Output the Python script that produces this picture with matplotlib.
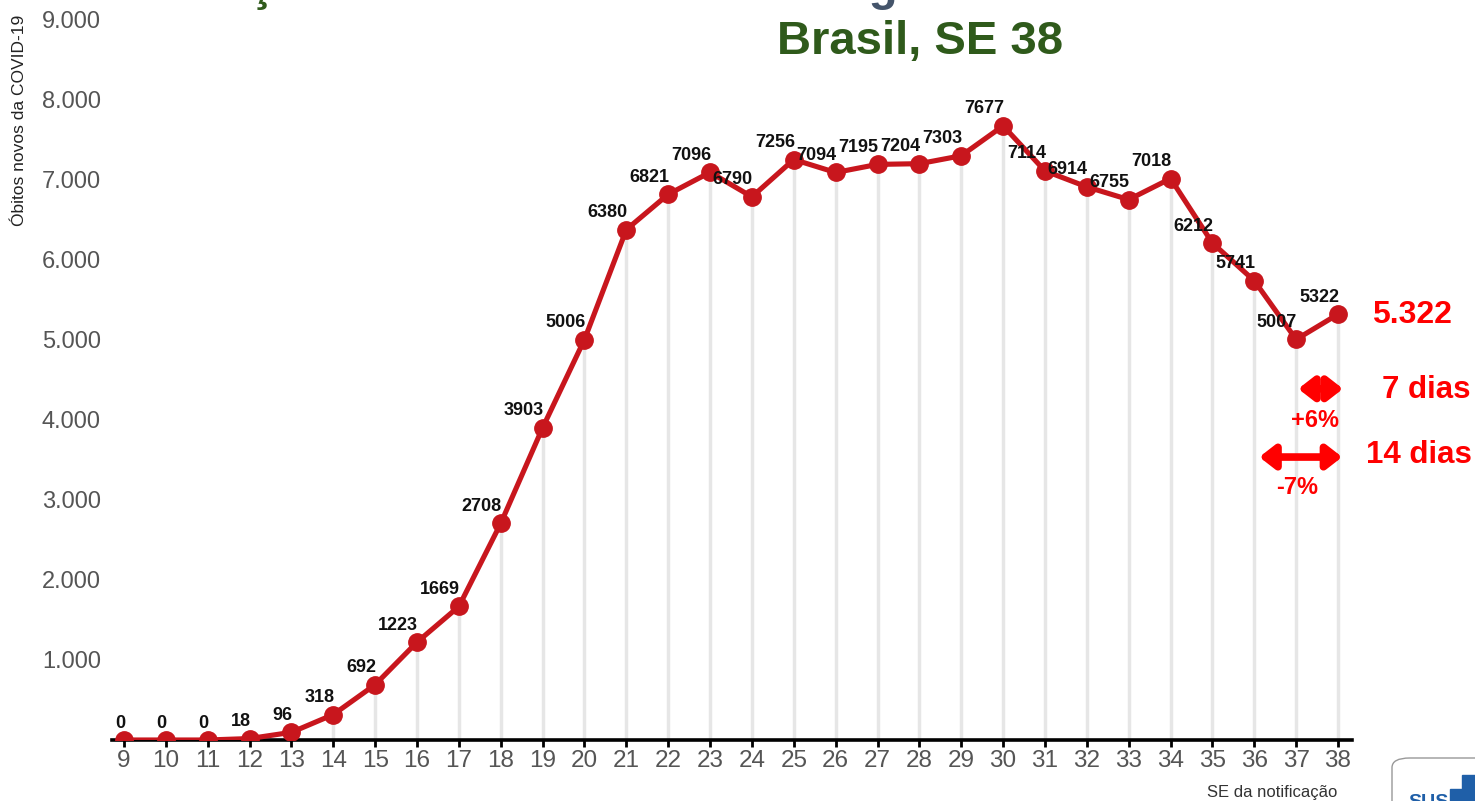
import matplotlib
matplotlib.use("Agg")
import matplotlib.pyplot as plt
from matplotlib.patches import FancyBboxPatch, Rectangle

plt.rcParams['font.family'] = ['Liberation Sans', 'DejaVu Sans']

# semana epidemiologica e obitos novos
weeks = list(range(9, 39))
deaths = [0, 0, 0, 18, 96, 318, 692, 1223, 1669, 2708,
          3903, 5006, 6380, 6821, 7096, 6790, 7256, 7094, 7195, 7204,
          7303, 7677, 7114, 6914, 6755, 7018, 6212, 5741, 5007, 5322]
yticks = [1000, 2000, 3000, 4000, 5000, 6000, 7000, 8000, 9000]
ytick_labels = ["1.000", "2.000", "3.000", "4.000", "5.000", "6.000", "7.000", "8.000", "9.000"]

last_value = "5.322"
var_7 = "+6%"
var_14 = "-7%"

RED_LINE = '#c8161d'
GREEN = '#2f5a1b'
SLATE = '#44546a'
RED = '#ff0000'

W, H = 1475, 801
fig = plt.figure(figsize=(W / 100, H / 100), dpi=100)
ax = fig.add_axes([112 / W, 1 - 740 / H, (1352 - 112) / W, (740 - 20) / H])

# linhas verticais do ponto ate o eixo
ax.vlines(weeks, 0, deaths, color='#e6e6e6', lw=2.5, zorder=1)
ax.plot(weeks, deaths, color=RED_LINE, lw=3.7, marker='o', ms=12.5, zorder=3)

for w, d in zip(weeks, deaths):
    ax.annotate(str(d), (w, d), xytext=(1, 17), textcoords='offset pixels',
                ha='right', va='center', fontsize=13, fontweight='bold',
                color='#111111', zorder=4)

ax.set_xlim(9 - 12 / 41.86, 38 + 14 / 41.86)
ax.set_ylim(0, 9000)
ax.set_xticks(weeks)
ax.set_yticks(yticks)
ax.set_yticklabels(ytick_labels)
for s in ['top', 'right', 'left']:
    ax.spines[s].set_visible(False)
ax.spines['bottom'].set_linewidth(2.6)
ax.spines['bottom'].set_color('black')
ax.tick_params(axis='x', length=5, width=2, color='black', labelsize=17.5,
               labelcolor='#555555', pad=2)
ax.tick_params(axis='y', length=0, labelsize=17, labelcolor='#555555', pad=8)

fig.text(20 / W, 1 - 15 / H, "Óbitos novos da COVID-19", rotation=90,
         ha='center', va='top', fontsize=12.5, color='#222222')
fig.text(1337 / W, 1 - 797 / H, "SE da notificação", ha='right',
         va='baseline', fontsize=12, color='#333333')

# titulo (primeira linha cortada no topo)
fig.text(920 / W, 1 - 42 / H, "Brasil, SE 38", ha='center', va='center',
         fontsize=34, fontweight='bold', color=GREEN)
renderer = fig.canvas.get_renderer()
x = 120
for piece, col in [("Evolução do número de ", GREEN),
                   ("óbitos registrados ", SLATE),
                   ("novos ", RED),
                   ("de SE", GREEN)]:
    t = fig.text(x / W, 1 - 0.5 / H, piece, ha='left', va='baseline',
                 fontsize=34, fontweight='bold', color=col)
    bb = t.get_window_extent(renderer)
    x += bb.width

# anotacoes a direita
fig.text(1412 / W, 1 - 315 / H, last_value, ha='center', va='center',
         fontsize=23, fontweight='bold', color=RED)
fig.text(1426 / W, 1 - 390 / H, "7 dias", ha='center', va='center',
         fontsize=22.5, fontweight='bold', color=RED)
fig.text(1419 / W, 1 - 455 / H, "14 dias", ha='center', va='center',
         fontsize=22.5, fontweight='bold', color=RED)
fig.text(1315 / W, 1 - 421 / H, var_7, ha='center', va='center',
         fontsize=17, fontweight='bold', color=RED)
fig.text(1297 / W, 1 - 487 / H, var_14, ha='center', va='center',
         fontsize=17, fontweight='bold', color=RED)

arrow = dict(arrowstyle='<|-|>,head_length=0.45,head_width=0.35',
             color=RED, lw=5.5, shrinkA=0, shrinkB=0, mutation_scale=20)
ax.annotate('', xy=(38.12, 4390), xytext=(37.05, 4390), arrowprops=arrow,
            annotation_clip=False)
ax.annotate('', xy=(38.1, 3537), xytext=(36.12, 3537), arrowprops=arrow,
            annotation_clip=False)

# logo SUS no canto
fig.patches.append(FancyBboxPatch((1392 / W, -20 / H), 120 / W, 63 / H,
                                  boxstyle='round,pad=0,rounding_size=0.012',
                                  transform=fig.transFigure, fc='white',
                                  ec='#999999', lw=1))
fig.text(1408 / W, -6 / H, "SUS", ha='left', va='baseline', fontsize=14,
         fontweight='bold', color='#1f5fa8')
fig.patches.append(Rectangle((1462 / W, 0), 14 / W, 26 / H,
                             transform=fig.transFigure, color='#1f5fa8'))
fig.patches.append(Rectangle((1450 / W, 0), 14 / W, 12 / H,
                             transform=fig.transFigure, color='#1f5fa8'))

fig.savefig('out.png', dpi=100)
